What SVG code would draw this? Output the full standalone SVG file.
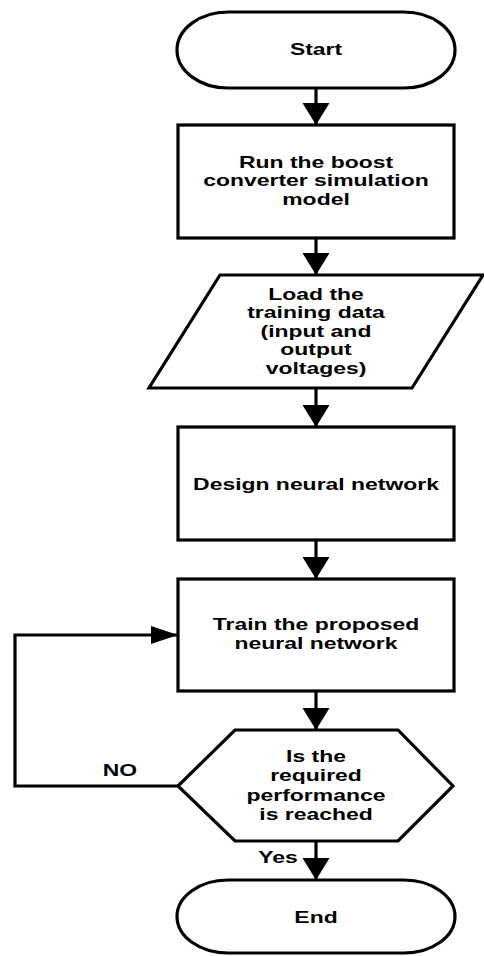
<svg xmlns="http://www.w3.org/2000/svg" width="484" height="956" viewBox="0 0 484 956">
  <defs>
    <marker id="arrV" markerUnits="userSpaceOnUse" markerWidth="24" markerHeight="28" refX="22" refY="13.5" orient="auto">
      <path d="M0,0 L22,13.5 L0,27 Z" fill="#000"/>
    </marker>
    <marker id="arrH" markerUnits="userSpaceOnUse" markerWidth="28" markerHeight="20" refX="27" refY="9" orient="auto">
      <path d="M0,0 L27,9 L0,18 Z" fill="#000"/>
    </marker>
  </defs>
  <style>
    .shape { fill: #fff; stroke: #000; stroke-width: 3.2; stroke-linejoin: miter; }
    .conn { fill: none; stroke: #000; stroke-width: 3.2; }
    text { font-family: "Liberation Sans", Arial, sans-serif; font-weight: bold; font-size: 16.5px; fill: #000; text-anchor: middle; }
  </style>
  <rect width="484" height="956" fill="#fff"/>

  <g id="connectors">
    <line class="conn" x1="316" y1="88" x2="316" y2="125" marker-end="url(#arrV)"/>
    <line class="conn" x1="316" y1="238" x2="316" y2="275" marker-end="url(#arrV)"/>
    <line class="conn" x1="316" y1="388" x2="316" y2="427" marker-end="url(#arrV)"/>
    <line class="conn" x1="316" y1="540" x2="316" y2="579" marker-end="url(#arrV)"/>
    <line class="conn" x1="316" y1="691" x2="316" y2="730" marker-end="url(#arrV)"/>
    <line class="conn" x1="316" y1="841" x2="316" y2="880" marker-end="url(#arrV)"/>
    <polyline class="conn" points="178,786 15,786 15,635 178,635" marker-end="url(#arrH)"/>
    <text transform="translate(120 0) scale(1.39 1)" x="0" y="776">NO</text>
    <text transform="translate(278 0) scale(1.39 1)" x="0" y="863">Yes</text>
  </g>

  <g id="start">
    <rect class="shape" x="177" y="12" width="278" height="76" rx="51" ry="38"/>
    <text transform="translate(316 0) scale(1.39 1)" x="0" y="55">Start</text>
  </g>

  <g id="run-simulation">
    <rect class="shape" x="178" y="125" width="276" height="113"/>
    <g transform="translate(316 0) scale(1.39 1)">
      <text x="0" y="168">Run the boost</text>
      <text x="0" y="186.5">converter simulation</text>
      <text x="0" y="205">model</text>
    </g>
  </g>

  <g id="load-data">
    <polygon class="shape" points="220,275 483,275 412,388 149,388"/>
    <g transform="translate(316 0) scale(1.39 1)">
      <text x="0" y="300">Load the</text>
      <text x="0" y="318.5">training data</text>
      <text x="0" y="337">(input and</text>
      <text x="0" y="355.5">output</text>
      <text x="0" y="374">voltages)</text>
    </g>
  </g>

  <g id="design-nn">
    <rect class="shape" x="178" y="427" width="276" height="113"/>
    <text transform="translate(316 0) scale(1.39 1)" x="0" y="490">Design neural network</text>
  </g>

  <g id="train-nn">
    <rect class="shape" x="178" y="579" width="276" height="112"/>
    <g transform="translate(316 0) scale(1.39 1)">
      <text x="0" y="630.5">Train the proposed</text>
      <text x="0" y="649.5">neural network</text>
    </g>
  </g>

  <g id="decision">
    <polygon class="shape" points="178,786 235,730 398,730 453,786 398,841 235,841"/>
    <g transform="translate(316 0) scale(1.39 1)">
      <text x="0" y="762">Is the</text>
      <text x="0" y="781.3">required</text>
      <text x="0" y="800.6">performance</text>
      <text x="0" y="819.9">is reached</text>
    </g>
  </g>

  <g id="end">
    <rect class="shape" x="177" y="880" width="278" height="73" rx="51" ry="36.5"/>
    <text transform="translate(316 0) scale(1.39 1)" x="0" y="923">End</text>
  </g>
</svg>
